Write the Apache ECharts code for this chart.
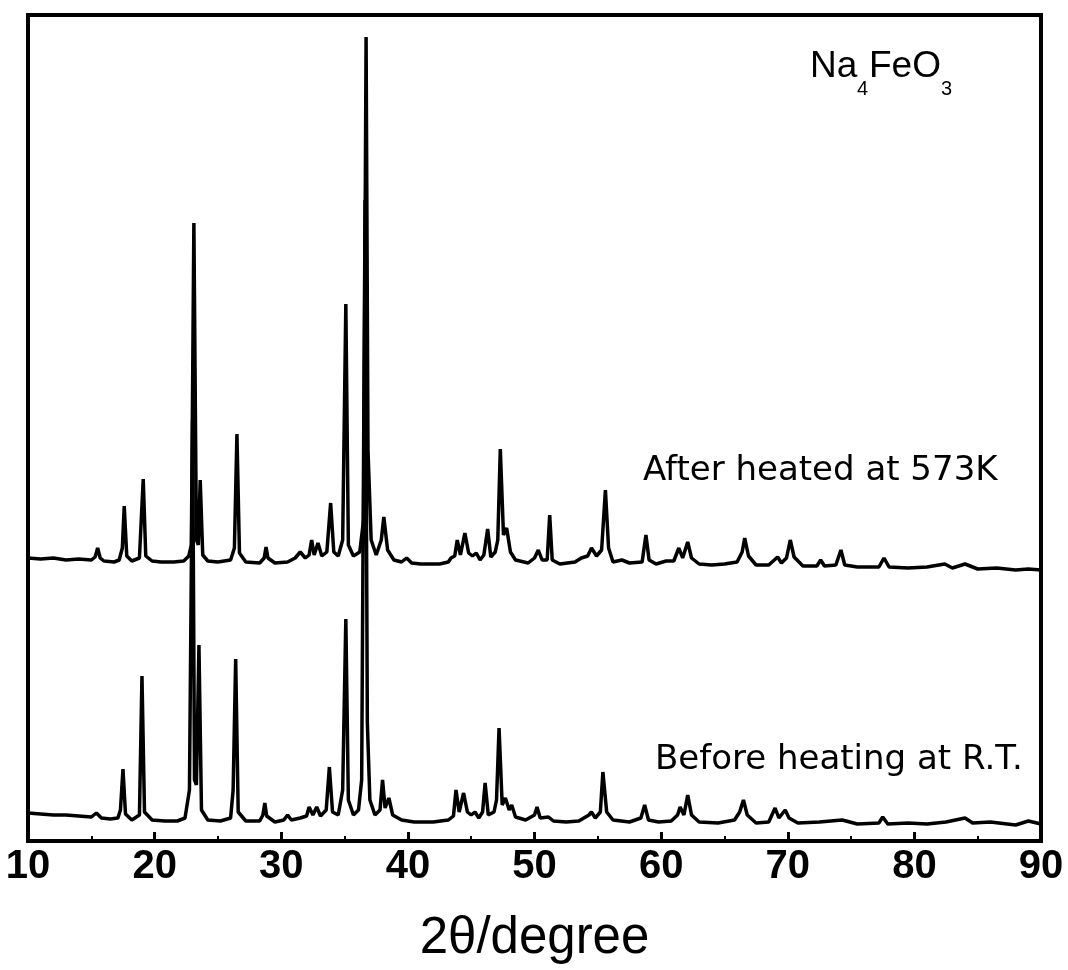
<!DOCTYPE html>
<html>
<head>
<meta charset="utf-8">
<script src="https://cdn.jsdelivr.net/npm/echarts@6/dist/echarts.min.js"></script>
<style>
  html, body { margin: 0; padding: 0; background: #fff; }
  #chart { width: 1068px; height: 970px; }
</style>
</head>
<body>
<div id="chart"></div>
<script>
// After heated at 573K (2theta, intensity in arbitrary units)
var afterTheta = [10.0, 11.0, 12.0, 13.0, 14.0, 15.0, 15.3, 15.5, 15.7, 16.0, 16.8, 17.2, 17.45, 17.6, 17.8, 18.2, 18.8, 19.1, 19.3, 19.8,
    20.5, 21.5, 22.3, 22.7, 22.9, 23.1, 23.3, 23.45, 23.6, 23.8, 24.2, 25.0, 26.0, 26.3, 26.5, 26.7, 27.2, 28.3, 28.65, 28.8,
    28.95, 29.5, 30.5, 31.1, 31.5, 31.9, 32.2, 32.4, 32.6, 32.9, 33.2, 33.6, 33.9, 34.15, 34.5, 34.85, 35.1, 35.3, 35.7, 36.2,
    36.5, 36.7, 36.85, 37.1, 37.5, 37.9, 38.1, 38.4, 38.9, 39.5, 39.9, 40.3, 41.0, 42.5, 43.2, 43.4, 43.7, 43.9, 44.15, 44.5,
    44.8, 45.1, 45.4, 45.7, 46.0, 46.3, 46.55, 46.9, 47.1, 47.3, 47.55, 47.8, 48.1, 48.5, 49.5, 50.0, 50.3, 50.6, 51.0, 51.2,
    51.4, 52.0, 53.2, 53.7, 54.2, 54.5, 54.9, 55.3, 55.6, 55.85, 56.2, 56.9, 57.5, 58.5, 58.8, 59.05, 59.6, 60.4, 61.0, 61.4,
    61.7, 62.1, 62.4, 63.0, 64.0, 65.0, 66.0, 66.4, 66.6, 66.9, 67.5, 68.5, 69.2, 69.5, 69.9, 70.2, 70.5, 71.2, 72.3, 72.6,
    72.9, 73.8, 74.2, 74.5, 75.5, 77.2, 77.6, 78.0, 79.5, 81.0, 82.4, 83.0, 84.0, 85.0, 86.5, 88.0, 89.0, 90.0];
var afterCounts = [283, 282, 283, 281, 282, 281, 284, 293, 283, 280, 279, 281, 293, 335, 285, 280, 283, 362, 285, 280,
    279, 279, 280, 285, 296, 618, 301, 296, 361, 286, 280, 279, 281, 293, 407, 288, 279, 278, 283, 294,
    283, 278, 279, 283, 289, 283, 286, 301, 286, 298, 285, 289, 338, 289, 285, 301, 537, 296, 285, 289,
    321, 804, 391, 301, 286, 301, 324, 291, 281, 279, 283, 278, 277, 277, 279, 283, 285, 301, 286, 308,
    288, 285, 288, 281, 286, 312, 284, 289, 301, 392, 306, 313, 289, 281, 278, 283, 291, 281, 281, 326,
    281, 277, 279, 283, 285, 293, 285, 291, 351, 293, 279, 281, 278, 279, 306, 281, 277, 280, 280, 293,
    283, 299, 283, 277, 276, 277, 279, 289, 303, 285, 276, 276, 284, 278, 283, 301, 284, 275, 275, 281,
    275, 276, 291, 276, 274, 274, 283, 274, 273, 274, 277, 273, 277, 272, 273, 271, 272, 271];

// Before heating at R.T.
var beforeTheta = [10.0, 11.0, 12.0, 13.0, 14.0, 15.0, 15.4, 15.8, 16.5, 17.1, 17.3, 17.5, 17.7, 18.2, 18.8, 19.0, 19.2, 19.8, 20.8, 21.8,
    22.4, 22.75, 23.0, 23.15, 23.3, 23.5, 23.7, 24.2, 25.2, 26.0, 26.2, 26.4, 26.6, 27.2, 28.3, 28.55, 28.7, 28.85, 29.5, 30.2,
    30.5, 30.8, 31.5, 32.0, 32.2, 32.5, 32.8, 33.1, 33.55, 33.8, 34.05, 34.5, 34.85, 35.1, 35.3, 35.7, 36.1, 36.35, 36.62, 36.8,
    37.0, 37.4, 37.8, 38.0, 38.2, 38.5, 38.8, 39.5, 40.5, 42.0, 43.2, 43.6, 43.8, 44.05, 44.4, 44.7, 45.0, 45.3, 45.6, 45.9,
    46.1, 46.35, 46.8, 47.0, 47.2, 47.45, 47.7, 48.0, 48.2, 48.5, 49.3, 50.0, 50.2, 50.45, 51.1, 51.5, 52.5, 53.5, 54.3, 54.5,
    54.8, 55.2, 55.4, 55.7, 56.2, 57.5, 58.4, 58.7, 59.0, 59.8, 60.8, 61.3, 61.5, 61.8, 62.1, 62.4, 63.0, 64.5, 65.8, 66.2,
    66.5, 66.8, 67.5, 68.5, 69.0, 69.3, 69.8, 70.1, 70.8, 72.5, 74.3, 75.5, 77.2, 77.5, 77.9, 79.5, 81.0, 82.5, 84.0, 84.6,
    86.0, 88.0, 89.0, 90.0];
var beforeCounts = [28, 27, 26, 26, 25, 24, 28, 23, 22, 23, 31, 72, 27, 21, 26, 165, 29, 21, 20, 20,
    23, 51, 421, 61, 56, 196, 31, 21, 20, 23, 51, 182, 29, 20, 20, 26, 38, 25, 19, 21,
    26, 21, 23, 25, 34, 26, 34, 25, 31, 74, 29, 26, 51, 222, 41, 26, 31, 61, 641, 118,
    41, 26, 31, 61, 33, 43, 26, 21, 19, 19, 21, 25, 51, 29, 48, 29, 26, 29, 23, 29,
    58, 26, 29, 41, 113, 36, 43, 31, 36, 24, 21, 26, 34, 23, 24, 20, 19, 20, 26, 29,
    23, 29, 69, 29, 21, 19, 23, 36, 21, 19, 20, 26, 34, 26, 46, 26, 19, 18, 21, 29,
    41, 26, 18, 19, 33, 23, 31, 23, 18, 19, 21, 17, 18, 24, 17, 18, 17, 19, 23, 18,
    19, 16, 20, 17];

function pairs(xs, ys) {
    var out = [];
    for (var i = 0; i < xs.length; i++) {
        out.push([xs[i], ys[i]]);
    }
    return out;
}

// formula label pieces: main text and subscripts
function piece(text, x, y, size) {
    return {
        type: 'text',
        x: x,
        y: y,
        style: {
            text: text,
            fontSize: size,
            fontFamily: '"Liberation Sans", sans-serif',
            fill: '#000',
            textVerticalAlign: 'middle'
        }
    };
}

var myChart = echarts.init(document.getElementById('chart'));

var option = {
    animation: false,
    backgroundColor: '#fff',
    grid: {
        left: 28,
        right: 27,
        top: 15,
        bottom: 129,
        show: true,
        borderColor: '#000',
        borderWidth: 4
    },
    xAxis: {
        type: 'value',
        min: 10,
        max: 90,
        interval: 10,
        splitLine: { show: false },
        axisLine: { show: true, lineStyle: { color: '#000', width: 4 } },
        axisTick: { show: true, inside: true, length: 9, lineStyle: { color: '#000', width: 3 } },
        minorTick: { show: true, splitNumber: 2, length: 5, lineStyle: { color: '#000', width: 2 } },
        axisLabel: {
            color: '#000',
            fontSize: 40,
            fontWeight: 'bold',
            fontFamily: '"Liberation Sans Narrow", "Liberation Sans", sans-serif',
            margin: 6
        },
        name: '2θ/degree',
        nameLocation: 'middle',
        nameGap: 72,
        nameTextStyle: {
            color: '#000',
            fontSize: 51,
            fontFamily: '"Liberation Sans", sans-serif'
        }
    },
    yAxis: {
        type: 'value',
        min: 0,
        max: 826,
        axisLine: { show: false },
        axisTick: { show: false },
        axisLabel: { show: false },
        splitLine: { show: false }
    },
    series: [{
        name: 'After heated at 573K',
        type: 'line',
        showSymbol: false,
        lineStyle: { color: '#000', width: 3.5 },
        data: pairs(afterTheta, afterCounts)
    }, {
        name: 'Before heating at R.T.',
        type: 'line',
        showSymbol: false,
        lineStyle: { color: '#000', width: 3.5 },
        data: pairs(beforeTheta, beforeCounts)
    }],
    graphic: [
        piece('Na', 810, 67, 37),
        piece('4', 857, 89, 20),
        piece('FeO', 869, 67, 37),
        piece('3', 941, 89, 20),
        {
            type: 'text',
            x: 643,
            y: 471,
            style: {
                text: 'After heated at 573K',
                fontSize: 34,
                fontFamily: '"DejaVu Sans", sans-serif',
                fill: '#000',
                textVerticalAlign: 'middle'
            }
        }, {
            type: 'text',
            x: 655,
            y: 760,
            style: {
                text: 'Before heating at R.T.',
                fontSize: 34,
                fontFamily: '"DejaVu Sans", sans-serif',
                fill: '#000',
                textVerticalAlign: 'middle'
            }
        }
    ]
};

myChart.setOption(option);
</script>
</body>
</html>
